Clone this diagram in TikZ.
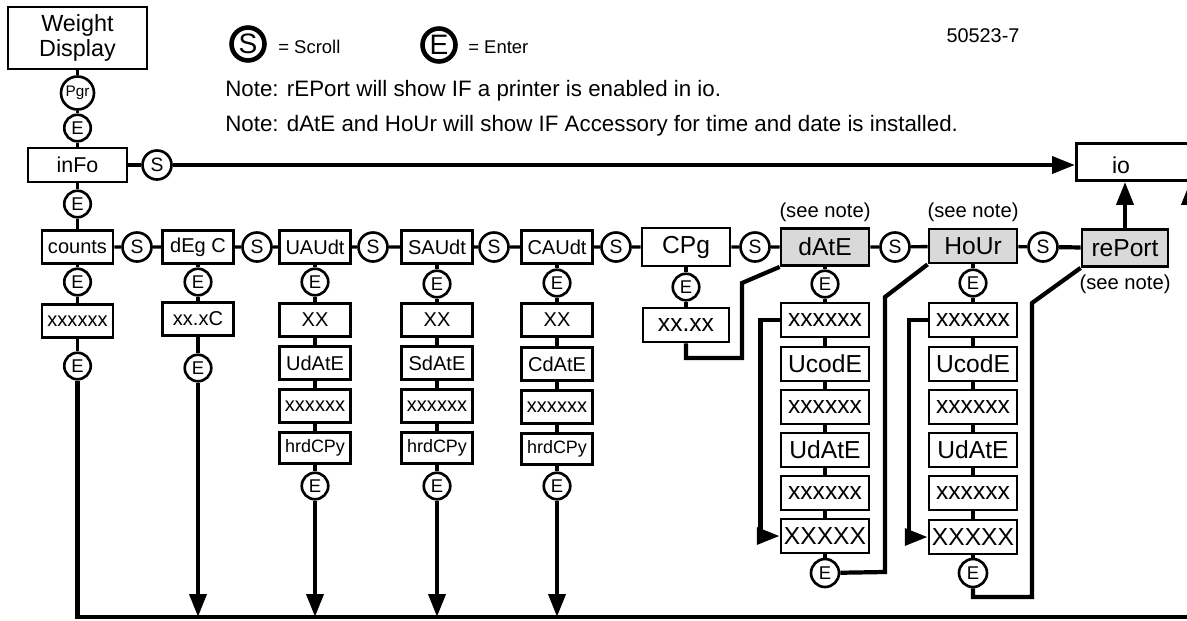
\documentclass[tikz,border=0pt]{standalone}
\usepackage{fontspec}
\setmainfont{Liberation Sans}
\usepackage{tikz}
\usetikzlibrary{calc, arrows.meta, positioning}

\begin{document}
\begin{tikzpicture}[x=0.2mm, y=-0.2mm, >={Triangle[length=13pt, width=9.5pt]},
    hop/.style={draw, line width=1.6pt, inner sep=0pt, fill=white,
        minimum width=14.2mm, minimum height=6.6mm, font=\fontsize{11.4}{12}\selectfont},
    hopto/.style={hop, minimum width=17.6mm, minimum height=6.8mm, font=\fontsize{14}{15}\selectfont},
    xam/.style={fill=gray!30},
    nut/.style={circle, draw, line width=1.5pt, inner sep=0pt, fill=white,
        minimum size=5.3mm, font=\fontsize{10.5}{11}\selectfont},
    nutS/.style={nut, minimum size=5.8mm, font=\fontsize{11}{11}\selectfont},
    noi/.style={line width=1.9pt},
    duong/.style={line width=2.4pt},
    chu/.style={inner sep=0pt},
]

    \useasboundingbox (0,0) rectangle (1187,620);

    % =================================================================
    % 1. CHÚ THÍCH VÀ GHI CHÚ
    % =================================================================
    \node[nut, minimum size=6.6mm, line width=2.6pt, font=\fontsize{16}{16}\selectfont] (legS) at (248,44) {S};
    \node[chu, anchor=west, font=\fontsize{10.5}{11}\selectfont] (legSt) at (278,47) {= Scroll};
    \node[nut, minimum size=6.6mm, line width=2.6pt, font=\fontsize{16}{16}\selectfont] (legE) at (439,45) {E};
    \node[chu, anchor=west, font=\fontsize{10.5}{11}\selectfont] (legEt) at (468,47) {= Enter};
    \node[chu, font=\fontsize{11.3}{12}\selectfont] (maso) at (983,36) {50523-7};

    \node[chu, anchor=west, font=\fontsize{12.7}{14}\selectfont] (note1) at (225,91)
        {Note: rEPort will show IF a printer is enabled in io.};
    \node[chu, anchor=west, font=\fontsize{12.7}{14}\selectfont] (note2) at (225,126)
        {Note: dAtE and HoUr will show IF Accessory for time and date is installed.};

    % =================================================================
    % 2. CỘT ĐẦU: Weight Display -> inFo -> counts
    % =================================================================
    \node[hop, minimum width=27.8mm, minimum height=12.4mm, align=center,
        font=\fontsize{13.3}{14.5}\selectfont] (wd) at (77.5,38) {Weight\\Display};
    \node[nut, minimum size=6.6mm, font=\fontsize{8.7}{9}\selectfont] (pgr) at (77.5,93) {Pgr};
    \node[nut] (e0) at (77.5,128) {E};
    \node[hop, minimum width=19.8mm, minimum height=6.8mm, font=\fontsize{12.2}{13}\selectfont] (info) at (77.5,165) {inFo};
    \node[nutS] (s0) at (157,165) {S};
    \node[nut] (e1) at (77.5,204) {E};
    \node[hop] (counts) at (77.5,247) {counts};
    \node[nut] (ec1) at (77.5,282) {E};
    \node[hop] (cntx) at (77.5,321) {xxxxxx};
    \node[nut] (ec2) at (77.5,366) {E};

    % io (bị cắt ở mép phải)
    \node[hop, minimum width=40mm, minimum height=7.4mm, anchor=west] (io) at (1075,162) {};
    \node[chu, font=\fontsize{13.1}{14}\selectfont] (iotxt) at (1121,165) {io};

    % =================================================================
    % 3. HÀNG CHÍNH VÀ CÁC CỘT
    % =================================================================
    \node[nutS] (s1) at (137,247) {S};
    \node[hop] (deg) at (198,247) {dEg C};
    \node[nut] (ed1) at (198,282) {E};
    \node[hop] (degx) at (198,319) {xx.xC};
    \node[nut] (ed2) at (198,368) {E};

    \node[nutS] (s2) at (257,247) {S};
    \node[hop] (uaudt) at (315,247) {UAUdt};
    \node[nut] (eu1) at (315,282) {E};
    \node[hop] (uxx) at (315,320) {XX};
    \node[hop] (udate) at (315,363) {UdAtE};
    \node[hop] (ux6) at (315,406) {xxxxxx};
    \node[hop, minimum height=6.2mm, font=\fontsize{10.2}{11}\selectfont] (uhrd) at (315,448) {hrdCPy};
    \node[nut] (eu2) at (315,486) {E};

    \node[nutS] (s3) at (373,247) {S};
    \node[hop] (saudt) at (437,247) {SAUdt};
    \node[nut] (es1) at (437,284) {E};
    \node[hop] (sxx) at (437,320) {XX};
    \node[hop] (sdate) at (437,363) {SdAtE};
    \node[hop] (sx6) at (437,406) {xxxxxx};
    \node[hop, minimum height=6.2mm, font=\fontsize{10.2}{11}\selectfont] (shrd) at (437,448) {hrdCPy};
    \node[nut] (es2) at (437,486) {E};

    \node[nutS] (s4) at (494,247) {S};
    \node[hop] (caudt) at (557,247) {CAUdt};
    \node[nut] (eca1) at (557,283) {E};
    \node[hop] (cxx) at (557,320) {XX};
    \node[hop] (cdate) at (557,364) {CdAtE};
    \node[hop] (cx6) at (557,407) {xxxxxx};
    \node[hop, minimum height=6.2mm, font=\fontsize{10.2}{11}\selectfont] (chrd) at (557,449) {hrdCPy};
    \node[nut] (eca2) at (557,486) {E};

    \node[nutS] (s5) at (616,247) {S};
    \node[hopto, minimum height=7.6mm] (cpg) at (686,247) {CPg};
    \node[nut] (ecp) at (686,287) {E};
    \node[hopto, minimum width=17.2mm] (cpgx) at (686,325) {xx.xx};

    \node[nutS] (s6) at (755,247) {S};
    \node[hopto, xam, minimum height=7.4mm] (date) at (825,247) {dAtE};
    \node[chu, anchor=south, font=\fontsize{11.5}{12}\selectfont] (datenote) at ([yshift=3pt]date.north) {(see note)};
    \node[nut] (ede1) at (825,284) {E};
    \node[hopto] (dx6a) at (825,320) {xxxxxx};
    \node[hopto] (ducode) at (825,364) {UcodE};
    \node[hopto] (dx6b) at (825,407) {xxxxxx};
    \node[hopto] (dudate) at (825,450) {UdAtE};
    \node[hopto] (dx6c) at (825,493) {xxxxxx};
    \node[hopto] (dX5) at (825,536) {XXXXX};
    \node[nut, minimum size=5.6mm] (ede2) at (825,573) {E};

    \node[nutS] (s7) at (895,247) {S};
    \node[hopto, xam] (hour) at (973,246) {HoUr};
    \node[chu, anchor=south, font=\fontsize{11.5}{12}\selectfont] (hournote) at ([yshift=3pt]hour.north) {(see note)};
    \node[nut] (eh1) at (973,283) {E};
    \node[hopto] (hx6a) at (973,320) {xxxxxx};
    \node[hopto] (hucode) at (973,364) {UcodE};
    \node[hopto] (hx6b) at (973,407) {xxxxxx};
    \node[hopto] (hudate) at (973,450) {UdAtE};
    \node[hopto] (hx6c) at (973,493) {xxxxxx};
    \node[hopto] (hX5) at (973,537) {XXXXX};
    \node[nut, minimum size=5.6mm] (eh2) at (973,573) {E};

    \node[nutS] (s8) at (1043,247) {S};
    \node[hopto, xam, minimum width=17.2mm, minimum height=7.4mm] (report) at (1125,248) {rePort};
    \node[chu, anchor=north, font=\fontsize{11.5}{12}\selectfont] (reportnote) at ([yshift=-4pt]report.south) {(see note)};

    % =================================================================
    % 4. CÁC ĐƯỜNG NỐI
    % =================================================================
    \coordinate (bl) at (77.5,617);
    \coordinate (br) at (1190,617);
    \coordinate (ck) at (742,283);
    \coordinate (dk) at (885,297);
    \coordinate (hk) at (1032,303);

    \draw[noi] (wd) -- (pgr) -- (e0) -- (info) -- (e1) -- (counts) -- (ec1) -- (cntx) -- (ec2);
    \draw[noi] (info) -- (s0);
    \draw[duong, ->] (s0) -- (s0 -| io.west);

    \draw[noi] (counts) -- (s1) -- (deg) -- (s2) -- (uaudt) -- (s3) -- (saudt) -- (s4) -- (caudt)
        -- (s5) -- (cpg) -- (s6) -- (date) -- (s7) -- (hour) -- (s8);
    \draw[duong] (s8) -- (report);
    \draw[duong, ->] (report) -- (report |- io.south);

    \draw[noi] (deg) -- (ed1) -- (degx) -- (ed2);
    \draw[noi] (uaudt) -- (eu1) -- (uxx) -- (udate) -- (ux6) -- (uhrd) -- (eu2);
    \draw[noi] (saudt) -- (es1) -- (sxx) -- (sdate) -- (sx6) -- (shrd) -- (es2);
    \draw[noi] (caudt) -- (eca1) -- (cxx) -- (cdate) -- (cx6) -- (chrd) -- (eca2);

    % quay về dòng dưới cùng rồi lên io
    \draw[duong, ->] (ec2) -- (bl) -- (br) -- (br |- io.south);
    \draw[duong, ->] (ed2) -- (ed2 |- bl);
    \draw[duong, ->] (eu2) -- (eu2 |- bl);
    \draw[duong, ->] (es2) -- (es2 |- bl);
    \draw[duong, ->] (eca2) -- (eca2 |- bl);

    % CPg -> dAtE
    \draw[noi] (cpg) -- (ecp) -- (cpgx);
    \draw[duong] (cpgx) -- ++(0,33) -| (ck) -- (date.south west);

    % dAtE -> HoUr
    \draw[noi] (date) -- (ede1) -- (dx6a) -- (ducode) -- (dx6b) -- (dudate) -- (dx6c) -- (dX5) -- (ede2);
    \draw[duong, ->] (dx6a.west) -- ++(-19,0) |- (dX5.west);
    \draw[duong] (ede2) -- ++(60,-1) -- (dk) -- (hour.south west);

    % HoUr -> rePort
    \draw[noi] (hour) -- (eh1) -- (hx6a) -- (hucode) -- (hx6b) -- (hudate) -- (hx6c) -- (hX5) -- (eh2);
    \draw[duong, ->] (hx6a.west) -- ++(-19,0) |- (hX5.west);
    \draw[duong] (eh2) -- ++(0,24) -| (hk) -- (report.south west);

\end{tikzpicture}
\end{document}
